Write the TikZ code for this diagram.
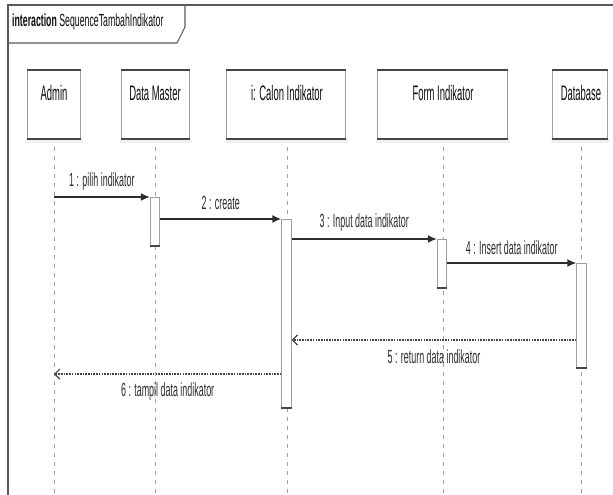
\documentclass[tikz,border=0pt]{standalone}
\usepackage{fontspec}
\setmainfont[FakeStretch=0.5]{Liberation Sans}
\newfontfamily\headfamily[FakeStretch=0.45]{Liberation Sans}
\newfontfamily\labelfamily[FakeStretch=0.47]{Liberation Sans}
\usetikzlibrary{arrows.meta}
\begin{document}
\begin{tikzpicture}[x=1pt,y=-1pt,
  framepen/.style={draw=gray!70!black, line width=1.6pt},
  headbox/.style={draw=gray!75, line width=0.9pt, fill=white, inner sep=0pt, minimum height=68pt},
  headtext/.style={text=gray!10!black, font=\headfamily\fontsize{21}{22}\selectfont, inner sep=0pt},
  actbox/.style={draw=gray!75, line width=0.9pt, fill=white, inner sep=0pt, minimum width=9.5pt, anchor=north},
  lifeline/.style={draw=gray!75, line width=0.9pt, dash pattern=on 4pt off 5pt},
  msg/.style={draw=gray!35!black, line width=1.4pt, -{Latex[length=9pt,width=8pt]}},
  ret/.style={draw=gray!55!black, line width=1.1pt, dash pattern=on 1.6pt off 1.1pt, -{Straight Barb[length=5pt,width=10pt,line width=1.2pt]}},
  msglabel/.style={text=gray!35!black, font=\labelfamily\fontsize{19}{20}\selectfont, inner sep=0pt}
]
\useasboundingbox (0,0) rectangle (613,495);

% diagram frame and its name tab
\draw[framepen] (8,495) -- (8,5) -- (613,5);
\draw[framepen, line width=1.1pt] (8,5) -- (185,5) -- (185,27) -- (177,43) -- (8,43);
\node[anchor=west, inner sep=0pt, text=gray!10!black, font=\fontsize{17.5}{18}\selectfont] (title) at (12,22)
  {\textbf{interaction} SequenceTambahIndikator};

% lifelines (drawn first so the heads and activations sit on top)
\foreach \lx in {54,155,287,443,581} \draw[lifeline] (\lx,138) -- (\lx,495);

% lifeline heads
\newcommand{\headshape}[4]{%
  \fill[gray!12] (#2-1,#3+1) rectangle (#2+#4+3,#3+5);
  \node[headbox, minimum width=#4pt, anchor=north west] (#1) at (#2,#3-68) {};
  \draw[gray!55!black, line width=2.2pt] (#1.north west) -- (#1.north east);
  \draw[gray!55!black, line width=2.2pt] (#1.south west) -- (#1.south east);
}
\headshape{admin}{27}{138}{53}
\headshape{master}{121}{138}{68}
\headshape{calon}{226}{138}{119}
\headshape{form}{377}{138}{130}
\headshape{db}{552}{138}{55}

\node[headtext] (admin-t)  at (54,93)  {Admin};
\node[headtext] (master-t) at (155,93) {Data Master};
\node[headtext] (calon-t)  at (287,93) {i: Calon Indikator};
\node[headtext] (form-t)   at (443,93) {Form Indikator};
\node[headtext] (db-t)     at (581,93) {Database};

% activation bars
\node[actbox, minimum height=48pt]  (act1) at (155,197) {};
\node[actbox, minimum height=188pt] (act2) at (286.5,219) {};
\node[actbox, minimum height=48pt]  (act3) at (442,239) {};
\node[actbox, minimum height=104pt] (act4) at (581.5,263) {};
\foreach \a in {act1,act2,act3,act4}
  \draw[gray!55!black, line width=1.4pt] (\a.south west) -- (\a.south east);

% messages
\coordinate (m1) at (54,197);
\draw[msg] (m1) -- (act1.north west)
  node[msglabel, midway, yshift=15pt] (l1) {1 : pilih indikator};
\draw[msg] (act1.east |- act2.north) -- (act2.north west)
  node[msglabel, midway, yshift=16pt] (l2) {2 : create};
\draw[msg] (act2.east |- act3.north) -- (act3.north west)
  node[msglabel, midway, yshift=16pt] (l3) {3 : Input data indikator};
\draw[msg] (act3.east |- act4.north) -- (act4.north west)
  node[msglabel, midway, yshift=15pt] (l4) {4 : Insert data indikator};

% replies
\coordinate (r5) at (0,340);
\draw[ret] (act4.west |- r5) -- (act2.east |- r5)
  node[msglabel, midway, yshift=-17pt] (l5) {5 : return data indikator};
\coordinate (r6) at (54,374);
\draw[ret] (act2.west |- r6) -- (r6)
  node[msglabel, midway, yshift=-18pt] (l6) {6 : tampil data indikator};
\end{tikzpicture}
\end{document}
